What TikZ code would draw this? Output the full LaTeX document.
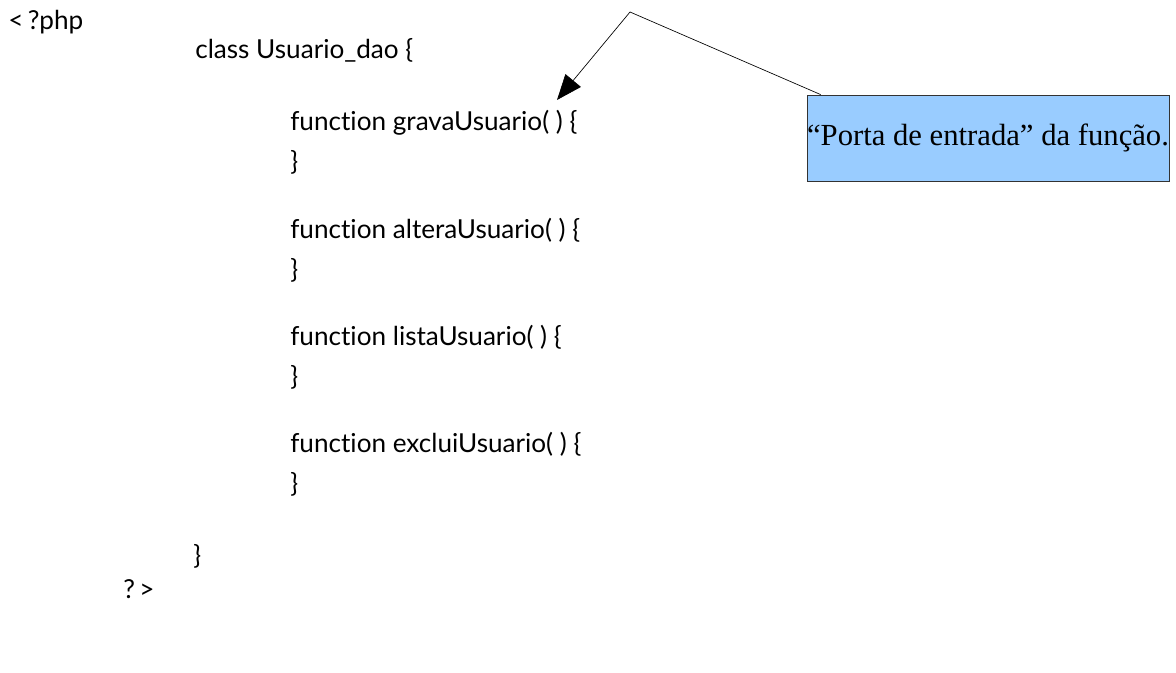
\documentclass[tikz,border=0pt]{standalone}
\usepackage{fontspec}
\setmainfont{Lato}[Ligatures={NoCommon}]
\newfontfamily\calloutfont{Liberation Serif}
\usetikzlibrary{arrows.meta}
\definecolor{calloutblue}{HTML}{99CCFF}
\begin{document}
\begin{tikzpicture}[x=0.75pt,y=-0.75pt,
  code/.style={anchor=west,inner sep=0pt,font=\fontsize{19.6}{22}\selectfont},
  callout/.style={draw=black!80,fill=calloutblue,line width=0.6pt,
    minimum width=270pt,minimum height=64.5pt,inner sep=0pt,
    font=\calloutfont\fontsize{23}{25}\selectfont},
  pointer/.style={line width=0.5pt,-{Triangle[length=19pt,width=15pt]}}]
\useasboundingbox (0,0) rectangle (1176,673);
% PHP source listing
\node[code] (open)   at (8,22)    {<\,?php};
\node[code] (cls)    at (195,50)  {class Usuario\_dao \{};
\node[code] (grava)  at (290,123) {function gravaUsuario( ) \{};
\node[code] (c1)     at (290,162) {\}};
\node[code] (altera) at (290,230) {function alteraUsuario( ) \{};
\node[code] (c2)     at (290,270) {\}};
\node[code] (lista)  at (290,337) {function listaUsuario( ) \{};
\node[code] (c3)     at (290,377) {\}};
\node[code] (exclui) at (290,444) {function excluiUsuario( ) \{};
\node[code] (c4)     at (290,484) {\}};
\node[code] (ccls)   at (193,556) {\}};
\node[code] (close)  at (123,589) {?\,>};
% callout box with its pointer
\node[callout] (note) at (988,138) {“Porta de entrada” da função.};
\coordinate (bend) at (630,12);
\coordinate (tip) at (557,100);
\draw[pointer] (note.north west) ++(14,0) -- (bend) -- (tip);
\end{tikzpicture}
\end{document}
